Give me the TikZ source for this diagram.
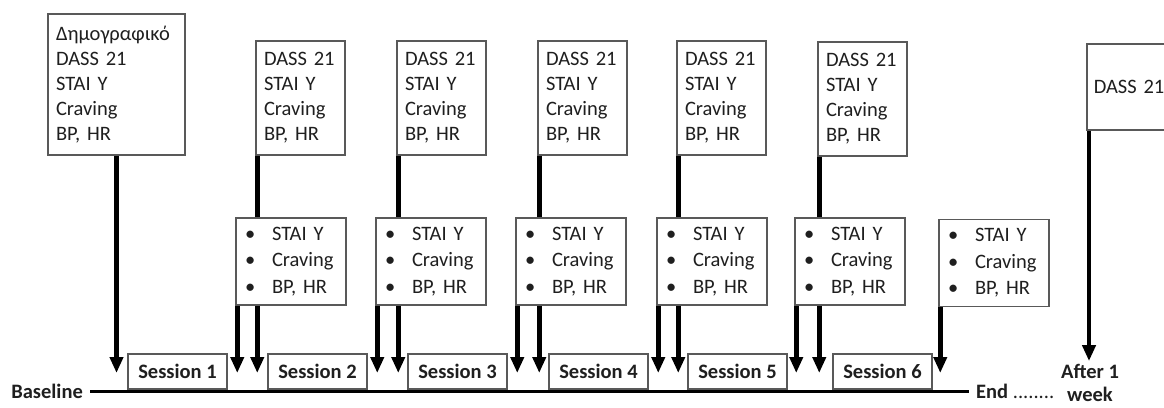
\documentclass[tikz,border=0pt]{standalone}
\usepackage{fontspec}
\setmainfont{Carlito}
\usetikzlibrary{arrows.meta}

\newcommand{\bul}[1]{\makebox[27pt][l]{\textbullet}#1}

\begin{document}
\begin{tikzpicture}[
        x=1pt, y=-1pt,
        >={Triangle[length=16pt,width=13pt]},
        font=\fontsize{20.5}{25}\selectfont,
        text=black!88,
        topbox/.style={
            draw=black!65,
            line width=1.5pt,
            fill=white,
            align=left,
            inner xsep=8pt,
            inner ysep=0pt,
            text width=73pt,
            minimum height=114pt
        },
        midbox/.style={
            draw=black!65,
            line width=1.5pt,
            fill=white,
            align=left,
            inner xsep=9pt,
            inner ysep=0pt,
            text width=92pt,
            minimum height=87pt,
            font=\fontsize{20.5}{26.5}\selectfont
        },
        sessbox/.style={
            draw=black!65,
            line width=1.5pt,
            fill=white,
            inner sep=0pt,
            minimum width=99pt,
            minimum height=35pt,
            font=\fontsize{20.5}{25}\selectfont\bfseries
        },
        lbl/.style={font=\fontsize{20.5}{23}\selectfont\bfseries, inner sep=0pt},
        tick/.style={->, draw=black, line width=4.5pt},
        stem/.style={draw=black, line width=4.5pt}
    ]
        \useasboundingbox (0,0) rectangle (1164,407);
        \clip (0,0) rectangle (1164,407);

        % questionnaires before each session
        \node[topbox, text width=121pt, minimum height=141pt] (b0) at (116.5,84.5) {Δημογραφικό\\DASS 21\\STAI Y\\Craving\\BP, HR};
        \node[topbox] (t2) at (300.5,98) {DASS 21\\STAI Y\\Craving\\BP, HR};
        \node[topbox] (t3) at (441.5,98) {DASS 21\\STAI Y\\Craving\\BP, HR};
        \node[topbox] (t4) at (582.5,98) {DASS 21\\STAI Y\\Craving\\BP, HR};
        \node[topbox] (t5) at (721.5,98) {DASS 21\\STAI Y\\Craving\\BP, HR};
        \node[topbox] (t6) at (862.5,99) {DASS 21\\STAI Y\\Craving\\BP, HR};
        \node[topbox, inner xsep=7pt, text width=96pt, minimum height=86pt, anchor=north west] (wk) at (1086,43) {DASS 21};

        % measures after each session
        \node[midbox] (m2) at (291,261.5) {\bul{STAI Y}\\\bul{Craving}\\\bul{BP, HR}};
        \node[midbox] (m3) at (431,261.5) {\bul{STAI Y}\\\bul{Craving}\\\bul{BP, HR}};
        \node[midbox] (m4) at (571,261.5) {\bul{STAI Y}\\\bul{Craving}\\\bul{BP, HR}};
        \node[midbox] (m5) at (712,261.5) {\bul{STAI Y}\\\bul{Craving}\\\bul{BP, HR}};
        \node[midbox] (m6) at (850,261.5) {\bul{STAI Y}\\\bul{Craving}\\\bul{BP, HR}};
        \node[midbox] (m7) at (994,263) {\bul{STAI Y}\\\bul{Craving}\\\bul{BP, HR}};

        % sessions on the time line
        \node[sessbox] (s1) at (177.5,371.5) {Session 1};
        \node[sessbox] (s2) at (317.5,371.5) {Session 2};
        \node[sessbox] (s3) at (457.5,371.5) {Session 3};
        \node[sessbox] (s4) at (598.5,371.5) {Session 4};
        \node[sessbox] (s5) at (737.5,371.5) {Session 5};
        \node[sessbox] (s6) at (882.5,371.5) {Session 6};

        \node[lbl, anchor=east, inner xsep=7pt] (base) at (90,391) {Baseline};
        \node[lbl, anchor=west, inner xsep=7pt] (fin) at (969,391) {End {\mdseries........}};
        \node[lbl, align=center] (after) at (1090,383) {After 1\\week};

        \draw[draw=black, line width=3pt] (base.east) -- (fin.west);

        \coordinate (tl) at (0,373);
        \coordinate (a2) at ([xshift=2pt]t2.south west);
        \coordinate (a3) at ([xshift=2pt]t3.south west);
        \coordinate (a4) at ([xshift=2pt]t4.south west);
        \coordinate (a5) at ([xshift=2pt]t5.south west);
        \coordinate (a6) at ([xshift=2pt]t6.south west);
        \coordinate (p2) at ([xshift=2pt]m2.south west);
        \coordinate (p3) at ([xshift=2pt]m3.south west);
        \coordinate (p4) at ([xshift=2pt]m4.south west);
        \coordinate (p5) at ([xshift=2pt]m5.south west);
        \coordinate (p6) at ([xshift=2pt]m6.south west);
        \coordinate (p7) at ([xshift=2pt]m7.south west);
        \coordinate (aw) at ([xshift=3pt]wk.south west);

        \draw[tick] (b0.south) -- (b0.south |- tl);

        \draw[stem] (a2) -- (a2 |- m2.north);
        \draw[tick] (a2 |- m2.south) -- (a2 |- tl);
        \draw[stem] (a3) -- (a3 |- m3.north);
        \draw[tick] (a3 |- m3.south) -- (a3 |- tl);
        \draw[stem] (a4) -- (a4 |- m4.north);
        \draw[tick] (a4 |- m4.south) -- (a4 |- tl);
        \draw[stem] (a5) -- (a5 |- m5.north);
        \draw[tick] (a5 |- m5.south) -- (a5 |- tl);
        \draw[stem] (a6) -- (a6 |- m6.north);
        \draw[tick] (a6 |- m6.south) -- (a6 |- tl);

        \draw[tick] (p2) -- (p2 |- tl);
        \draw[tick] (p3) -- (p3 |- tl);
        \draw[tick] (p4) -- (p4 |- tl);
        \draw[tick] (p5) -- (p5 |- tl);
        \draw[tick] (p6) -- (p6 |- tl);
        \draw[tick] (p7) -- (p7 |- tl);

        \draw[tick] (aw) -- ([yshift=3pt]aw |- after.north);
    \end{tikzpicture}
\end{document}
